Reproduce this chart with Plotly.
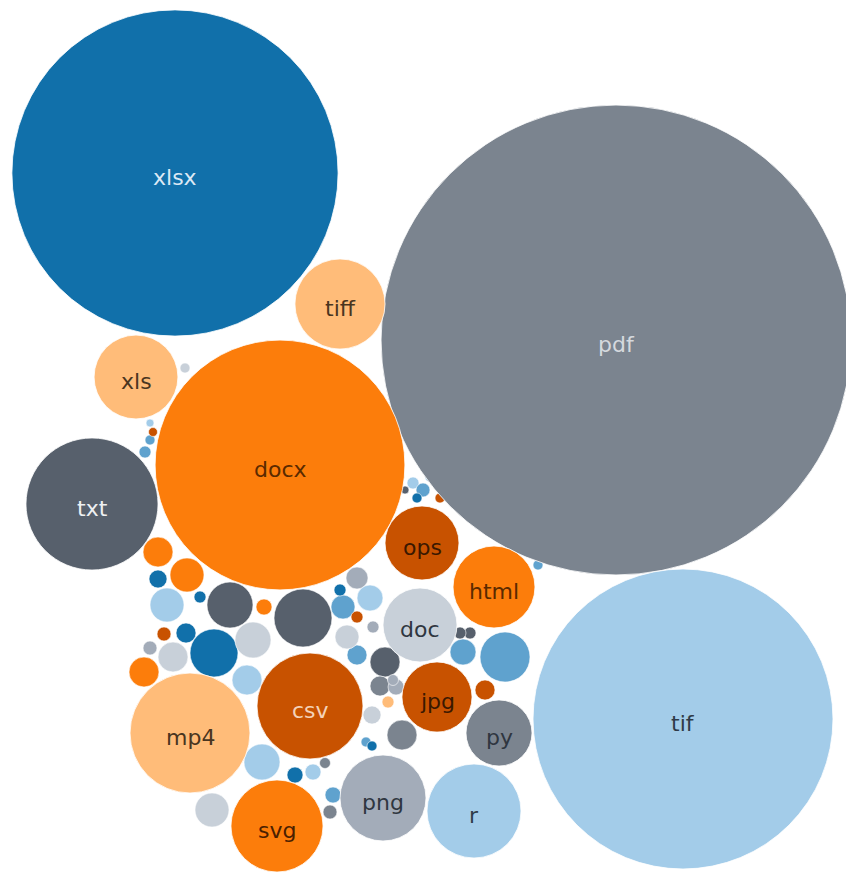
import plotly.graph_objects as go

# ---- data ----
labels = ["xlsx", "pdf", "tif", "docx", "txt", "tiff", "xls", "ops", "html", "doc",
          "csv", "jpg", "py", "mp4", "png", "r", "svg"]
label_x = [175, 616, 683, 280, 92, 340, 136, 422, 494, 420, 310, 437, 499, 190, 383, 474, 277]
label_y = [173, 340, 719, 465, 504, 304, 377, 543, 587, 625, 706, 697, 733, 733, 798, 811, 826]
label_values = [266, 552, 225, 156, 43.6, 20.3, 17.6, 13.7, 16.8, 13.7, 28.1, 12.3, 10.9, 36, 18.5, 22.1, 21.2]
label_colors = ["#1170aa", "#7b848f", "#a3cce9", "#fc7d0b", "#57606c", "#ffbc79", "#ffbc79",
                "#c85200", "#fc7d0b", "#c8d0d9", "#c85200", "#c85200", "#7b848f", "#ffbc79",
                "#a3acb9", "#a3cce9", "#fc7d0b"]
text_colors = ["#dce9f5", "#d5d9de", "#2f3b48", "#5a2a00", "#eef0f2", "#4a3520", "#4a3520",
               "#3a1800", "#5a2a00", "#2f3640", "#f4d2b8", "#3a1800", "#2f3640", "#4a3520",
               "#2f3640", "#2f3b48", "#4a2000"]

# small unlabeled bubbles
small_x = [158, 187, 158, 167, 230, 264, 303, 214, 186, 164, 173, 144, 150, 253, 247, 200,
           357, 370, 343, 340, 357, 385, 357, 347, 505, 463, 485, 402, 470, 460, 262, 212,
           295, 333, 330, 313, 380, 372, 396, 388, 373, 150, 153, 145, 150, 185, 405, 413,
           423, 440, 430, 417, 538, 366, 372, 325, 393]
small_y = [552, 575, 579, 605, 605, 607, 618, 653, 633, 634, 657, 672, 648, 640, 680, 597,
           578, 598, 607, 590, 617, 662, 655, 637, 657, 652, 690, 735, 633, 633, 762, 810,
           775, 795, 812, 772, 686, 715, 687, 702, 627, 440, 432, 452, 423, 368, 490, 483,
           490, 498, 477, 498, 565, 742, 746, 763, 680]
small_values = [2.25, 2.89, 0.81, 2.89, 5.29, 0.64, 8.41, 5.76, 1.0, 0.49, 2.25, 2.25, 0.49,
                3.24, 2.25, 0.36, 1.21, 1.69, 1.44, 0.36, 0.36, 2.25, 1.0, 1.44, 6.25, 1.69,
                1.0, 2.25, 0.36, 0.36, 3.24, 2.89, 0.64, 0.64, 0.49, 0.64, 1.0, 0.81, 0.64,
                0.36, 0.36, 0.25, 0.2, 0.36, 0.16, 0.25, 0.16, 0.36, 0.49, 0.25, 0.25, 0.25,
                0.25, 0.25, 0.25, 0.3, 0.3]
small_colors = ["#fc7d0b", "#fc7d0b", "#1170aa", "#a3cce9", "#57606c", "#fc7d0b", "#57606c",
                "#1170aa", "#1170aa", "#c85200", "#c8d0d9", "#fc7d0b", "#a3acb9", "#c8d0d9",
                "#a3cce9", "#1170aa", "#a3acb9", "#a3cce9", "#5fa2ce", "#1170aa", "#c85200",
                "#57606c", "#5fa2ce", "#c8d0d9", "#5fa2ce", "#5fa2ce", "#c85200", "#7b848f",
                "#57606c", "#57606c", "#a3cce9", "#c8d0d9", "#1170aa", "#5fa2ce", "#7b848f",
                "#a3cce9", "#7b848f", "#c8d0d9", "#a3acb9", "#ffbc79", "#a3acb9", "#5fa2ce",
                "#c85200", "#5fa2ce", "#a3cce9", "#c8d0d9", "#57606c", "#a3cce9", "#5fa2ce",
                "#c85200", "#a3cce9", "#1170aa", "#5fa2ce", "#5fa2ce", "#1170aa", "#7b848f",
                "#a3acb9"]

W, H = 846, 874
# plotly area mode: radius(px) = sqrt(value / 2 / sizeref) -> radius = 10*sqrt(value)
SIZEREF = 1 / 200.0

fig = go.Figure()
fig.add_trace(go.Scatter(
    x=small_x, y=small_y, mode="markers", hoverinfo="skip",
    marker=dict(size=small_values, sizemode="area", sizeref=SIZEREF, sizemin=1,
                color=small_colors, opacity=1, line=dict(width=0.6, color="white")),
    showlegend=False, cliponaxis=True,
))
fig.add_trace(go.Scatter(
    x=label_x, y=label_y, mode="markers", text=labels, hoverinfo="text",
    marker=dict(size=label_values, sizemode="area", sizeref=SIZEREF,
                color=label_colors, opacity=1, line=dict(width=0.8, color="white")),
    showlegend=False, cliponaxis=True,
))
for lab, lx, ly, tc in zip(labels, label_x, label_y, text_colors):
    fig.add_annotation(x=lx, y=ly, text=lab, showarrow=False, yshift=-4,
                       font=dict(family="DejaVu Sans, sans-serif", size=22, color=tc))
fig.update_layout(
    width=W, height=H, margin=dict(l=0, r=0, t=0, b=0),
    paper_bgcolor="white", plot_bgcolor="white",
    xaxis=dict(range=[0, W], visible=False, fixedrange=True),
    yaxis=dict(range=[H, 0], visible=False, fixedrange=True),
)
fig.write_html("out.html", config={"displayModeBar": False})

# remove the default body margin so the figure sits flush in the window
with open("out.html", "r", encoding="utf-8") as f:
    html = f.read()
html = html.replace("<body>", '<body style="margin:0;overflow:hidden">', 1)
with open("out.html", "w", encoding="utf-8") as f:
    f.write(html)
